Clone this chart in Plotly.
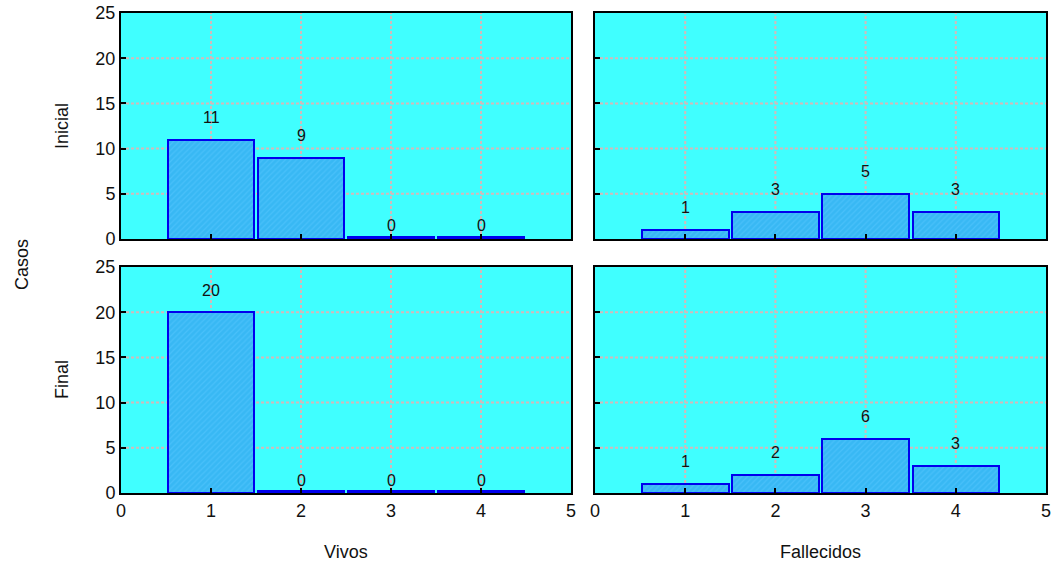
import plotly.graph_objects as go

categorias = [1, 2, 3, 4]
vivos_inicial = [11, 9, 0, 0]
fallecidos_inicial = [1, 3, 5, 3]
vivos_final = [20, 0, 0, 0]
fallecidos_final = [1, 2, 6, 3]
filas = ["Inicial", "Final"]
columnas = ["Vivos", "Fallecidos"]
ticks_x = [0, 1, 2, 3, 4, 5]
ticks_y = [0, 5, 10, 15, 20, 25]

FONT = "Liberation Sans, Arial, sans-serif"
BG = "#40ffff"
BAR_FILL = "#38b8f4"
BAR_LINE = "#0000ee"
TXT = "#111111"
GRID = dict(color="#d2baba", width=2, dash="3px,2px")

W, H = 1058, 571
fig = go.Figure()

# panel domains (paper fractions)
xdom = [[121 / W, 571 / W], [595 / W, 1046 / W]]
ydom = [[1 - 239 / H, 1 - 13 / H], [1 - 493 / H, 1 - 267 / H]]

series = [[vivos_inicial, fallecidos_inicial], [vivos_final, fallecidos_final]]

annotations = []
shapes = []
layout_axes = {}
idx = 0
for r in range(2):
    for c in range(2):
        idx += 1
        xa = "x" if idx == 1 else f"x{idx}"
        ya = "y" if idx == 1 else f"y{idx}"
        vals = series[r][c]
        # dashed grid lines behind the bars
        for t in ticks_y[1:-1]:
            shapes.append(dict(type="line", xref=f"{xa} domain", yref=ya,
                               x0=0, x1=1, y0=t, y1=t, layer="below", line=GRID))
        for t in ticks_x[1:-1]:
            shapes.append(dict(type="line", xref=xa, yref=f"{ya} domain",
                               x0=t, x1=t, y0=0, y1=1, layer="below", line=GRID))
        # zero counts are drawn as a thin sliver so the frame remains visible
        heights = [v if v > 0 else 0.25 for v in vals]
        fig.add_trace(go.Bar(
            x=categorias, y=heights, width=0.96,
            marker=dict(color=BAR_FILL,
                        line=dict(color=BAR_LINE, width=2),
                        pattern=dict(shape="/", fgcolor="#5ac8ff", bgcolor=BAR_FILL,
                                     size=4, solidity=0.3)),
            xaxis=xa, yaxis=ya, showlegend=False, hoverinfo="skip",
        ))
        for x, v in zip(categorias, vals):
            annotations.append(dict(
                x=x, y=v, xref=xa, yref=ya, text=str(v), showarrow=False,
                yshift=22 if v > 0 else 13, font=dict(size=16, color=TXT, family=FONT),
            ))
        axis_common = dict(
            showline=True, linecolor="black", linewidth=2, mirror=True,
            ticks="inside", ticklen=5, tickcolor="black", tickwidth=1.5,
            zeroline=False, automargin=False, showgrid=False,
            tickfont=dict(size=18, family=FONT, color=TXT),
        )
        layout_axes["xaxis" if idx == 1 else f"xaxis{idx}"] = dict(
            axis_common, domain=xdom[c], range=[0, 5], tickvals=ticks_x,
            showticklabels=(r == 1), anchor=ya,
        )
        layout_axes["yaxis" if idx == 1 else f"yaxis{idx}"] = dict(
            axis_common, domain=ydom[r], range=[0, 25], tickvals=ticks_y,
            showticklabels=(c == 0), anchor=xa,
        )

# row and column titles
for name, yc in zip(filas, [126, 380]):
    annotations.append(dict(text=name, x=62 / W, y=1 - yc / H, xref="paper", yref="paper",
                            xanchor="center", yanchor="middle", textangle=-90,
                            showarrow=False, font=dict(size=18, family=FONT, color=TXT)))
for name, xc in zip(columnas, [346, 820]):
    annotations.append(dict(text=name, x=xc / W, y=1 - 552 / H, xref="paper", yref="paper",
                            xanchor="center", yanchor="middle",
                            showarrow=False, font=dict(size=18, family=FONT, color=TXT)))
annotations.append(dict(
    text="Casos", x=22 / W, y=1 - 265 / H, xref="paper", yref="paper",
    xanchor="center", yanchor="middle", textangle=-90, showarrow=False,
    font=dict(size=18, family=FONT, color=TXT),
))

fig.update_layout(
    width=W, height=H,
    margin=dict(l=0, r=0, t=0, b=0),
    paper_bgcolor="white", plot_bgcolor=BG,
    bargap=0, annotations=annotations, shapes=shapes,
    **layout_axes,
)

fig.write_html("out.html")
